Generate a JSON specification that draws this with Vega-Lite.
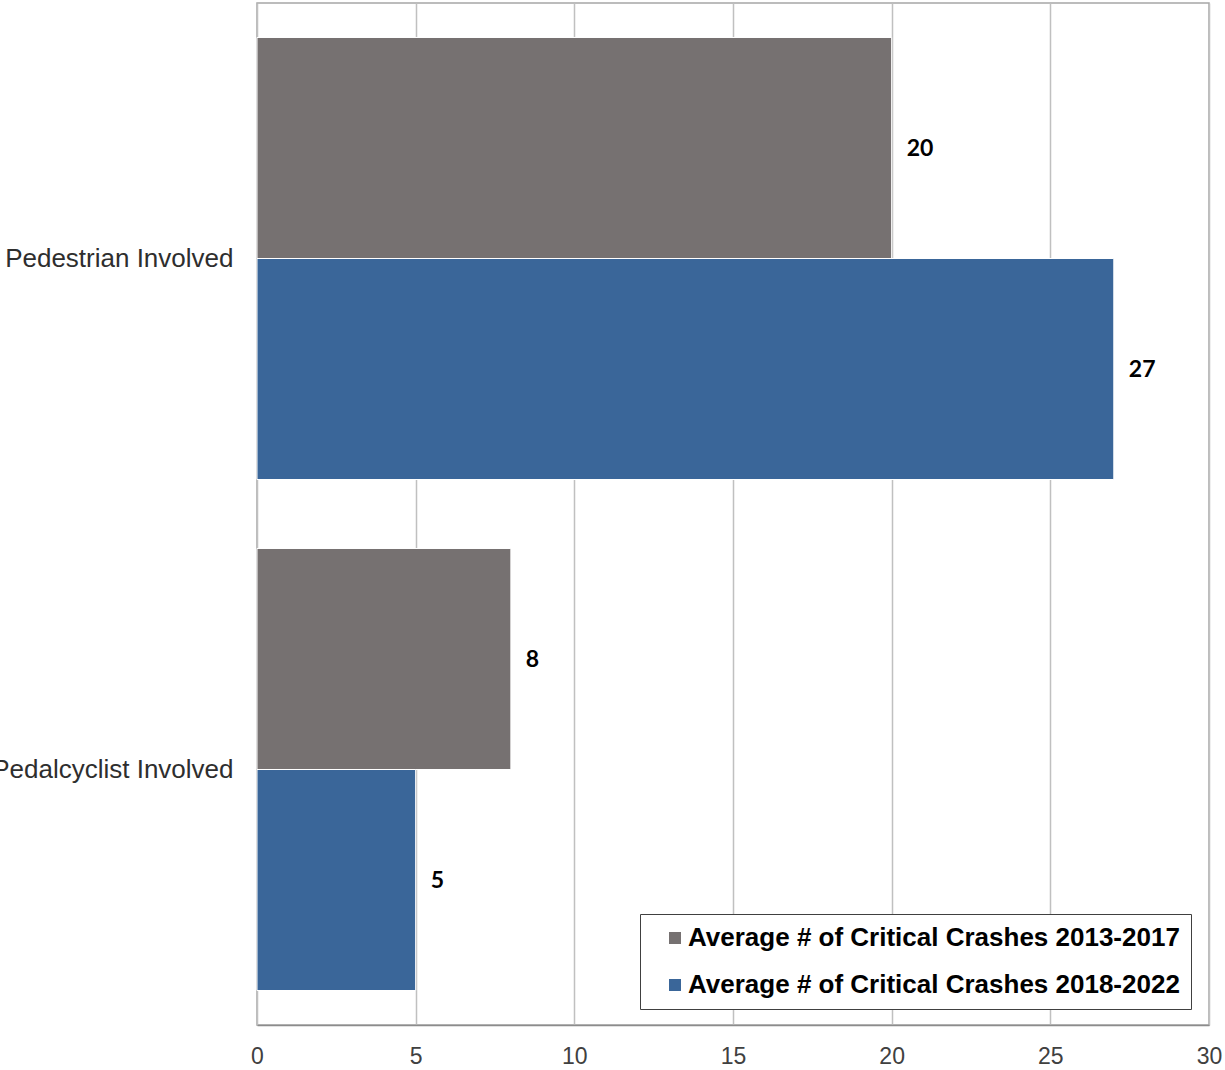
{
  "$schema": "https://vega.github.io/schema/vega-lite/v6.json",
  "autosize": {"type": "none"},
  "padding": {"left": 257, "top": 3, "right": 16, "bottom": 45},
  "width": 952,
  "height": 1022,
  "background": "white",
  "config": {
    "view": {"stroke": "#a6a6a6", "strokeWidth": 1.5},
    "font": "Liberation Sans",
    "legend": {"strokeColor": "#404040", "fillColor": "white"}
  },
  "data": {
    "values": [
      {"category": "Pedestrian Involved", "period": "Average # of Critical Crashes 2013-2017", "value": 20},
      {"category": "Pedestrian Involved", "period": "Average # of Critical Crashes 2018-2022", "value": 27},
      {"category": "Pedalcyclist Involved", "period": "Average # of Critical Crashes 2013-2017", "value": 8},
      {"category": "Pedalcyclist Involved", "period": "Average # of Critical Crashes 2018-2022", "value": 5}
    ]
  },
  "encoding": {
    "y": {
      "field": "category",
      "type": "nominal",
      "sort": ["Pedestrian Involved", "Pedalcyclist Involved"],
      "scale": {"paddingInner": 0.135, "paddingOuter": 0.0675},
      "axis": {
        "title": null,
        "domain": false,
        "ticks": false,
        "grid": false,
        "labelFont": "Liberation Sans",
        "labelFontSize": 26,
        "labelColor": "#2e2e2e",
        "labelPadding": 24,
        "labelLimit": 400
      }
    },
    "yOffset": {
      "field": "period",
      "type": "nominal",
      "sort": ["Average # of Critical Crashes 2013-2017", "Average # of Critical Crashes 2018-2022"]
    },
    "x": {
      "field": "value",
      "type": "quantitative",
      "scale": {"domain": [0, 30], "nice": false},
      "axis": {
        "title": null,
        "values": [0, 5, 10, 15, 20, 25, 30],
        "grid": true,
        "gridColor": "#c0c0c0",
        "gridWidth": 1.5,
        "domain": true,
        "domainColor": "#8c8c8c",
        "domainWidth": 1.5,
        "ticks": false,
        "labelFont": "Liberation Sans",
        "labelFontSize": 23,
        "labelColor": "#404040",
        "labelPadding": 20,
        "labelFlush": false
      }
    }
  },
  "layer": [
    {
      "mark": {"type": "bar", "stroke": "white", "strokeWidth": 1},
      "encoding": {
        "color": {
          "field": "period",
          "type": "nominal",
          "sort": ["Average # of Critical Crashes 2013-2017", "Average # of Critical Crashes 2018-2022"],
          "scale": {"range": ["#767171", "#3a6699"]},
          "legend": {
            "title": null,
            "orient": "none",
            "legendX": 383,
            "legendY": 911,
            "direction": "vertical",
            "padding": 11,
            "symbolType": "square",
            "symbolSize": 144,
            "symbolStrokeWidth": 0,
            "symbolOffset": 11,
            "labelOffset": 0,
            "labelFont": "Liberation Sans",
            "labelFontWeight": "bold",
            "labelFontSize": 26,
            "labelColor": "#000000",
            "labelLimit": 700,
            "rowPadding": 21
          }
        }
      }
    },
    {
      "mark": {
        "type": "text",
        "align": "left",
        "baseline": "middle",
        "dx": 15,
        "dy": 1,
        "font": "Lato",
        "fontWeight": "bold",
        "fontSize": 23,
        "color": "#000000"
      },
      "encoding": {
        "text": {"field": "value", "type": "quantitative"}
      }
    }
  ]
}
